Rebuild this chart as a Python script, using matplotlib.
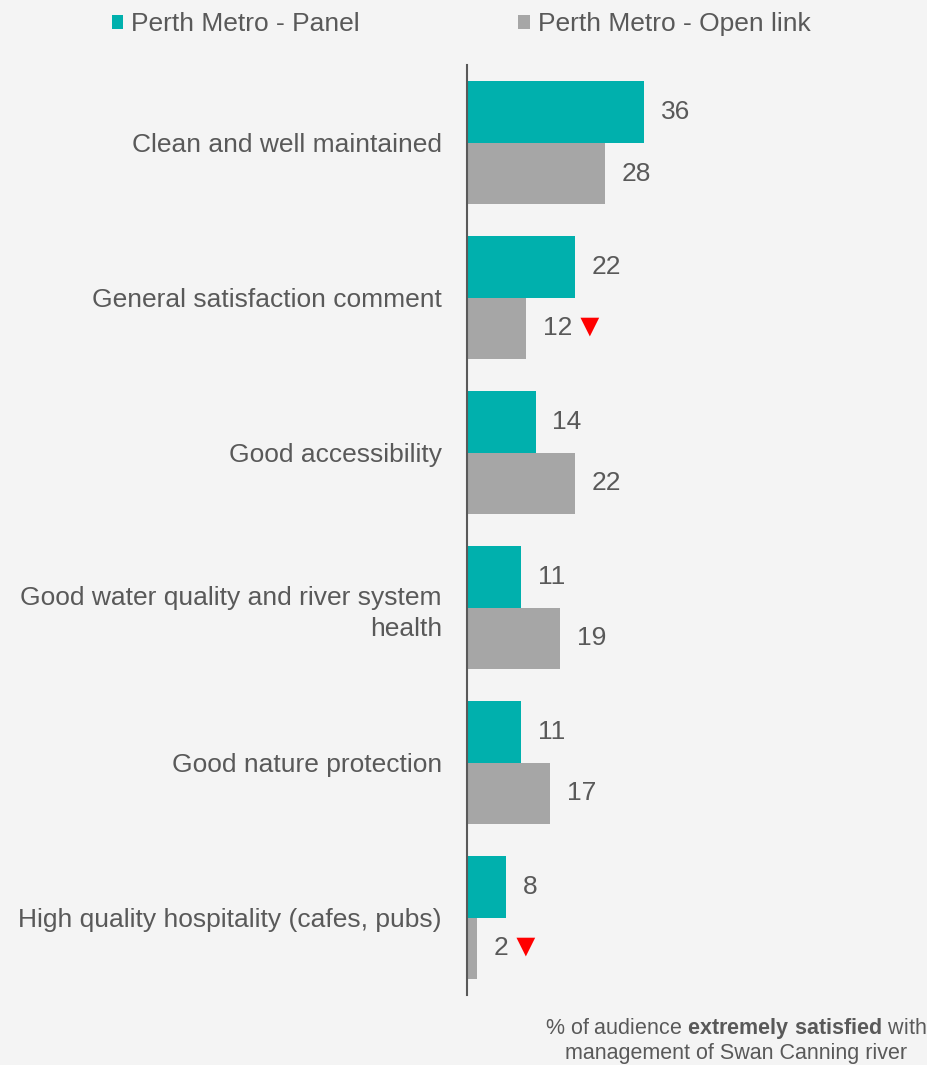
import matplotlib
matplotlib.use("Agg")
import matplotlib.pyplot as plt

plt.rcParams['font.family'] = ['Liberation Sans', 'DejaVu Sans']
plt.rcParams['mathtext.fontset'] = 'custom'
plt.rcParams['mathtext.rm'] = 'Liberation Sans'
plt.rcParams['mathtext.bf'] = 'Liberation Sans:bold'

categories = ["Clean and well maintained",
              "General satisfaction comment",
              "Good accessibility",
              "Good water quality and river system\nhealth",
              "Good nature protection",
              "High quality hospitality (cafes, pubs)"]
panel = [36, 22, 14, 11, 11, 8]
open_link = [28, 12, 22, 19, 17, 2]
open_down = [False, True, False, False, False, True]   # red arrow = significantly lower

TEAL = '#00B0AD'
GREY = '#A6A6A6'
TXT = '#595959'
BG = '#F4F4F4'

fig = plt.figure(figsize=(9.28, 10.65), dpi=100, facecolor=BG)
ax = fig.add_axes([0.503, 0.0657, 0.497, 0.873])
ax.set_facecolor(BG)

h = 0.397
ypos = list(range(len(categories)))
b1 = ax.barh([y - h / 2 for y in ypos], panel, height=h, color=TEAL, label="Perth Metro - Panel")
b2 = ax.barh([y + h / 2 for y in ypos], open_link, height=h, color=GREY, label="Perth Metro - Open link")

ax.set_xlim(0, 93.7)
ax.set_ylim(5.5, -0.5)

for rect, v in zip(b1, panel):
    ax.annotate(str(v), xy=(rect.get_width(), rect.get_y() + rect.get_height() / 2),
                xytext=(12, 0), textcoords='offset points', ha='left', va='center',
                fontsize=19, color=TXT)

for rect, v, down in zip(b2, open_link, open_down):
    lbl = ax.annotate(str(v), xy=(rect.get_width(), rect.get_y() + rect.get_height() / 2),
                      xytext=(12, 0), textcoords='offset points', ha='left', va='center',
                      fontsize=19, color=TXT)
    if down:
        ax.annotate('▼', xy=(1, 0.55), xycoords=lbl, xytext=(1, 0),
                    textcoords='offset points', ha='left', va='center',
                    fontsize=23, color='#FF0000')

ax.set_yticks(ypos)
ax.set_yticklabels(categories, fontsize=19, color=TXT)
for t in ax.get_yticklabels():
    t.set_linespacing(1.35)
ax.tick_params(axis='y', length=0, pad=18)
ax.set_xticks([])
for s in ['top', 'right', 'bottom']:
    ax.spines[s].set_visible(False)
ax.spines['left'].set_color(TXT)
ax.spines['left'].set_linewidth(1.5)

fig.legend(handles=[b1, b2], loc='center', bbox_to_anchor=(0.497, 0.977), ncol=2,
           frameon=False, fontsize=19, labelcolor=TXT, handlelength=0.45, handleheight=0.45,
           handletextpad=0.3, columnspacing=6.0, borderpad=0)

fig.text(0.793, 0.0345, r"% of audience $\mathbf{extremely\ satisfied}$ with",
         ha='center', va='center', fontsize=15.5, color=TXT)
fig.text(0.793, 0.0105, "management of Swan Canning river",
         ha='center', va='center', fontsize=15.5, color=TXT)

fig.savefig("out.png", dpi=100, facecolor=BG)
